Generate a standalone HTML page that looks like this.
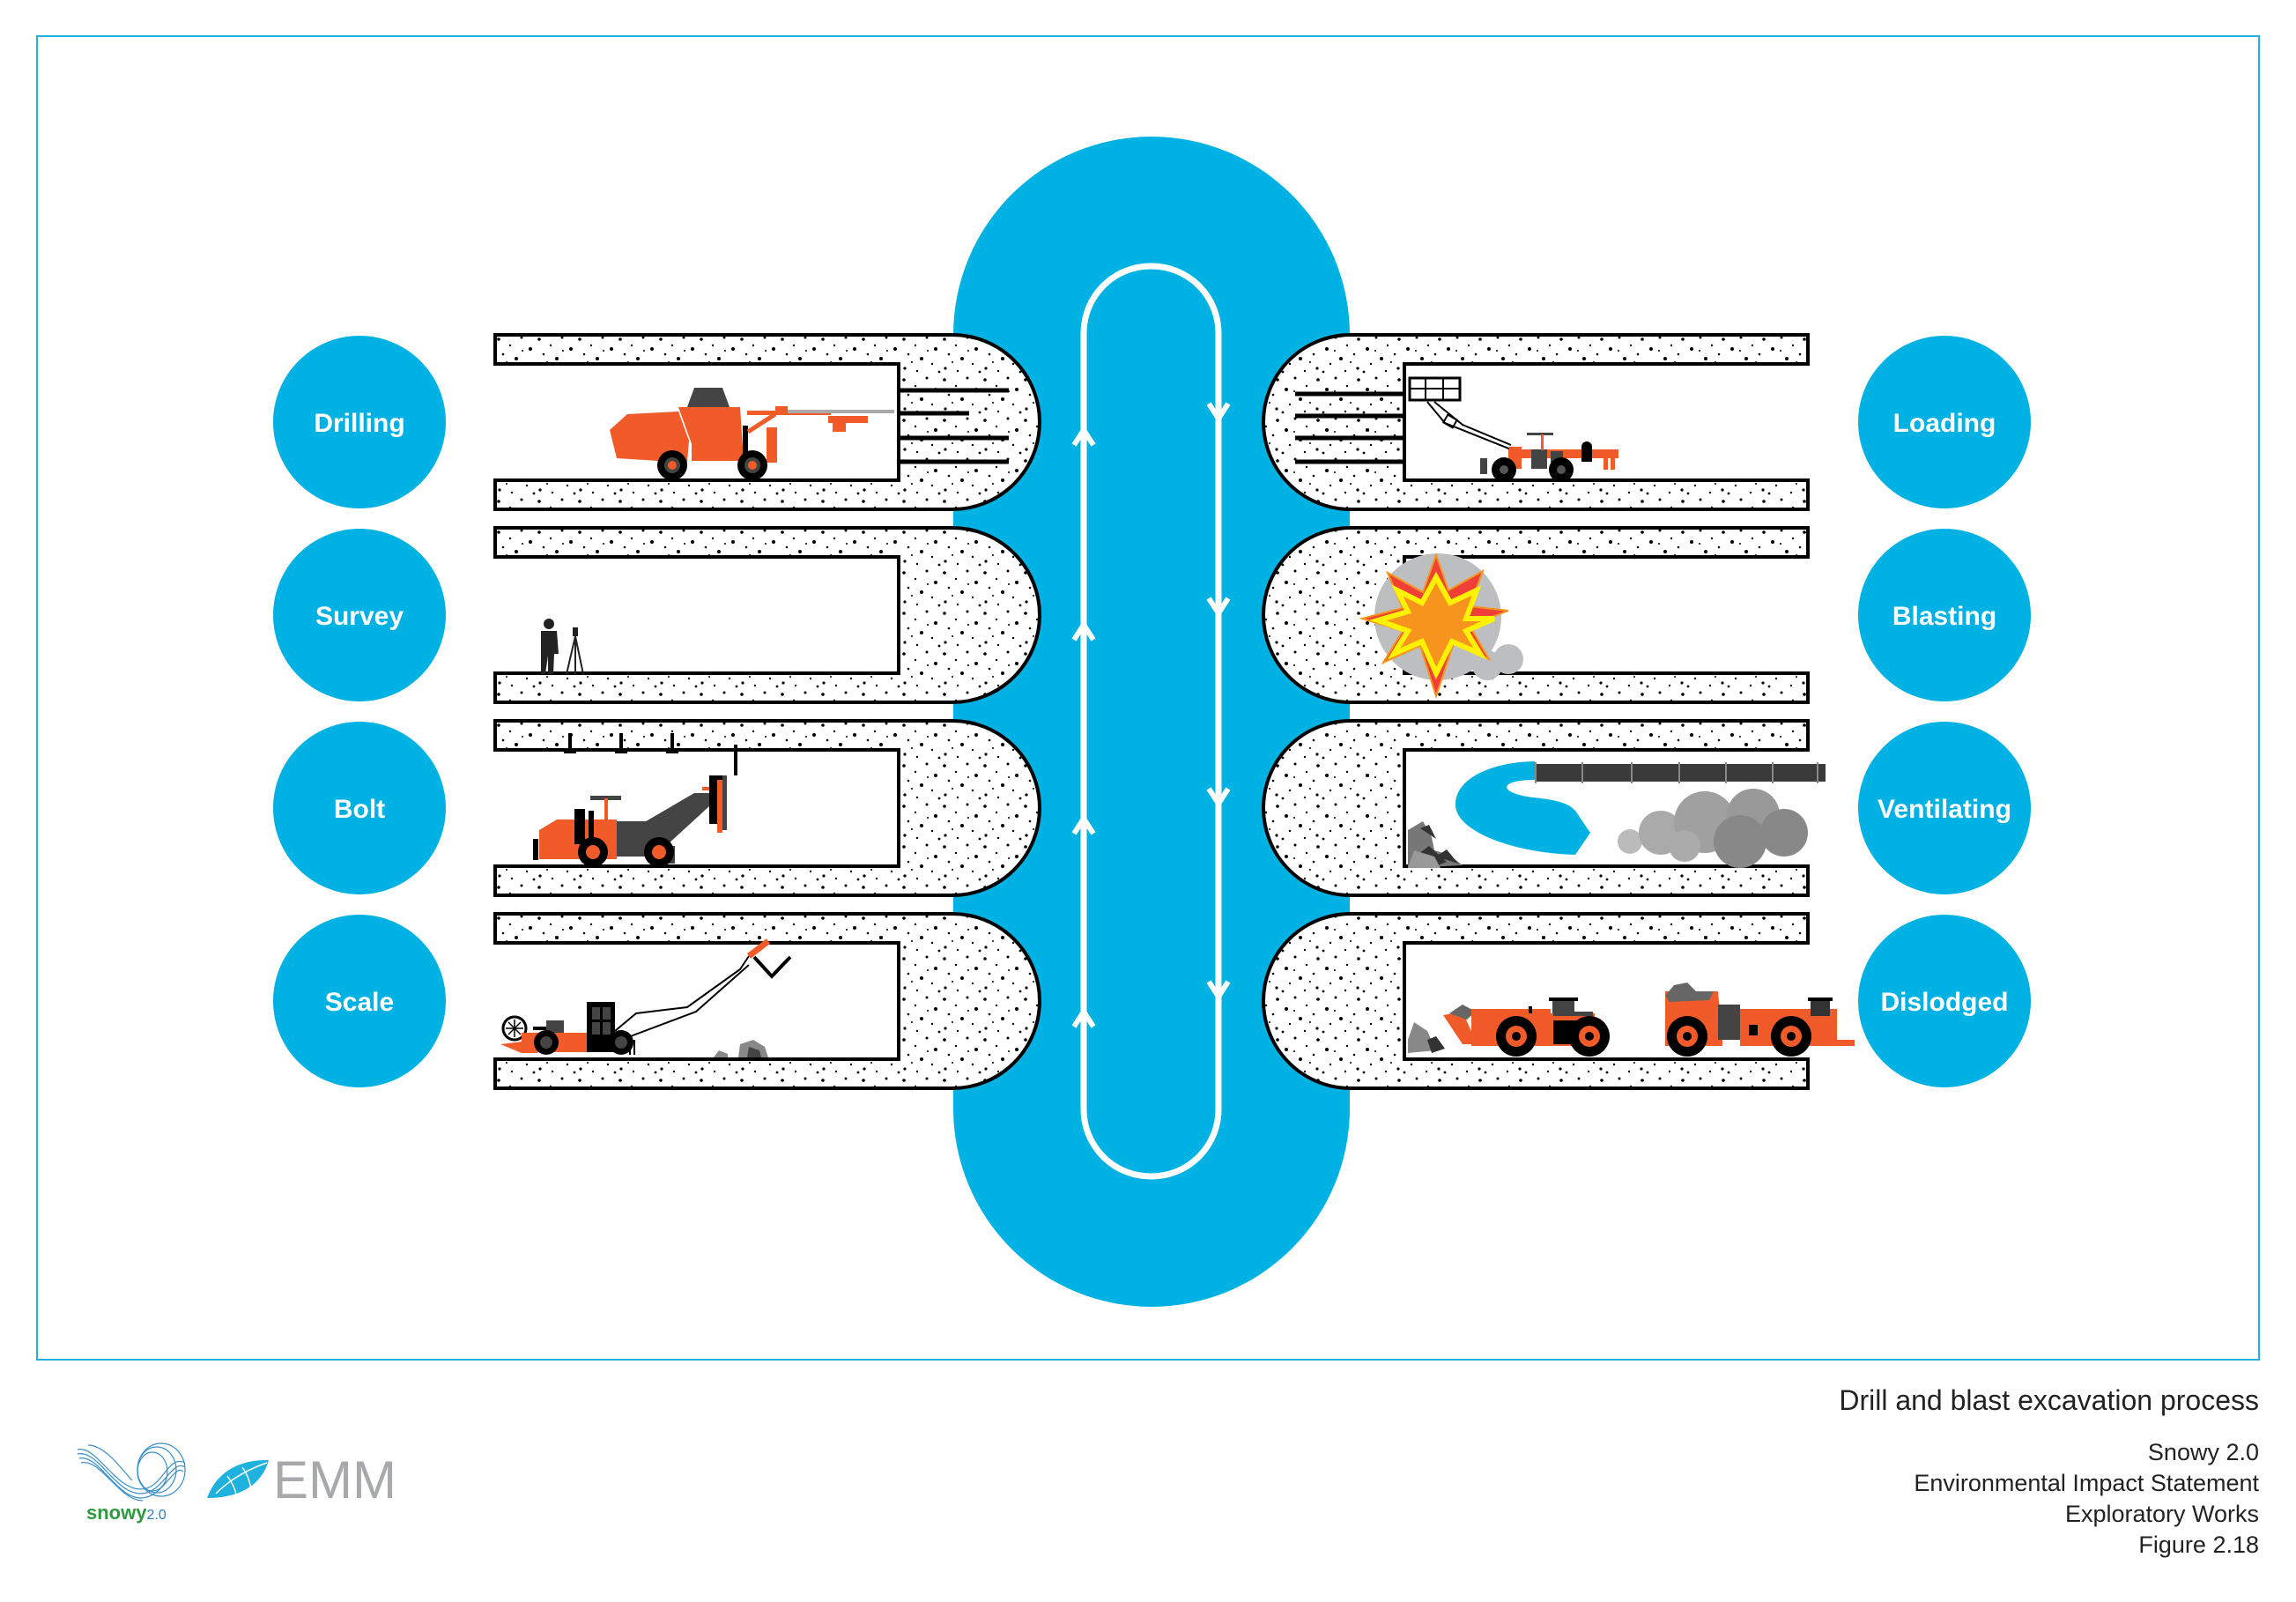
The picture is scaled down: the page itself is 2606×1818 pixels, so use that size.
<!DOCTYPE html>
<html><head><meta charset="utf-8"><style>
html,body{margin:0;padding:0;background:#fff;}
svg{display:block;}
text{font-family:"Liberation Sans",sans-serif;}
</style></head><body>
<svg width="2606" height="1818" viewBox="0 0 2606 1818" xmlns="http://www.w3.org/2000/svg">
<defs>
<pattern id="st" width="46" height="46" patternUnits="userSpaceOnUse">
<rect width="46" height="46" fill="#fff"/>
<g fill="#000">
<circle cx="4" cy="5" r="1.8"/><circle cx="17" cy="12" r="1.2"/><circle cx="30" cy="3" r="1.5"/><circle cx="40" cy="16" r="2"/>
<circle cx="9" cy="22" r="1.3"/><circle cx="24" cy="27" r="2"/><circle cx="36" cy="33" r="1.2"/><circle cx="5" cy="38" r="1.6"/>
<circle cx="19" cy="41" r="1.2"/><circle cx="44" cy="42" r="1.4"/><circle cx="31" cy="18" r="1"/><circle cx="13" cy="31" r="1"/>
</g>
</pattern>
<g id="tun">
<path d="M0,0 H519 A99,99 0 0 1 519,198 H0 V165 H458 V33 H0 Z" fill="url(#st)" stroke="#000" stroke-width="4" stroke-linejoin="miter"/>
</g>
</defs>
<rect x="42" y="41" width="2522" height="1502" fill="none" stroke="#1fb2de" stroke-width="2"/>
<rect x="1082" y="155" width="450" height="1328" rx="225" fill="#00b2e3"/>
<rect x="1230" y="302" width="153" height="1033" rx="76" fill="none" stroke="#fff" stroke-width="7"/>
<g stroke="#fff" stroke-width="6" fill="none">
<path d="M1219,505 L1230,488 L1241,505"/><path d="M1219,726 L1230,709 L1241,726"/><path d="M1219,946 L1230,929 L1241,946"/><path d="M1219,1165 L1230,1148 L1241,1165"/>
<path d="M1372,458 L1383,475 L1394,458"/><path d="M1372,679 L1383,696 L1394,679"/><path d="M1372,895 L1383,912 L1394,895"/><path d="M1372,1114 L1383,1131 L1394,1114"/>
</g>
<use href="#tun" transform="translate(562,380)"/>
<use href="#tun" transform="translate(562,599)"/>
<use href="#tun" transform="translate(562,818)"/>
<use href="#tun" transform="translate(562,1037)"/>
<use href="#tun" transform="translate(2052,380) scale(-1,1)"/>
<use href="#tun" transform="translate(2052,599) scale(-1,1)"/>
<use href="#tun" transform="translate(2052,818) scale(-1,1)"/>
<use href="#tun" transform="translate(2052,1037) scale(-1,1)"/>
<path d="M856,1086 L876,1108 L897,1086" fill="#fff" stroke="#000" stroke-width="4"/>
<rect x="858" y="1080" width="37" height="6" fill="#fff"/>
<g stroke="#000" stroke-width="5">
<line x1="1022" y1="443" x2="1145" y2="443"/><line x1="1022" y1="469" x2="1100" y2="469"/><line x1="1022" y1="497" x2="1145" y2="497"/><line x1="1022" y1="524" x2="1145" y2="524"/>
<line x1="1592" y1="447" x2="1470" y2="447"/><line x1="1592" y1="472" x2="1470" y2="472"/><line x1="1592" y1="497" x2="1470" y2="497"/><line x1="1592" y1="524" x2="1470" y2="524"/>
</g>
<g fill="#00b2e3">
<circle cx="408" cy="479" r="98"/><circle cx="408" cy="698" r="98"/><circle cx="408" cy="917" r="98"/><circle cx="408" cy="1136" r="98"/>
<circle cx="2207" cy="479" r="98"/><circle cx="2207" cy="698" r="98"/><circle cx="2207" cy="917" r="98"/><circle cx="2207" cy="1136" r="98"/>
</g>
<g fill="#fff" font-size="30" font-weight="bold" text-anchor="middle">
<text x="408" y="490">Drilling</text><text x="408" y="709">Survey</text><text x="408" y="928">Bolt</text><text x="408" y="1147">Scale</text>
<text x="2207" y="490">Loading</text><text x="2207" y="709">Blasting</text><text x="2207" y="928" textLength="152" lengthAdjust="spacingAndGlyphs">Ventilating</text><text x="2207" y="1147">Dislodged</text>
</g>
<g>
<path d="M692,488 L712,470 L770,467 L782,500 L780,525 L700,520 Z" fill="#f15a29"/>
<path d="M780,462 L788,440 L820,440 L828,462 Z" fill="#444"/>
<path d="M770,462 L840,462 L843,508 L788,512 Z" fill="#f15a29"/>
<rect x="785" y="505" width="60" height="18" fill="#f15a29"/>
<rect x="843" y="483" width="6" height="50" fill="#000"/>
<rect x="870" y="485" width="12" height="40" fill="#f15a29"/>
<path d="M849,490 L880,470" stroke="#f15a29" stroke-width="5"/>
<rect x="848" y="466" width="95" height="5" fill="#f15a29"/>
<rect x="885" y="465" width="130" height="4" fill="#aaa"/>
<rect x="940" y="472" width="45" height="8" fill="#f15a29"/><rect x="945" y="478" width="15" height="12" fill="#f15a29"/>
<rect x="880" y="461" width="14" height="8" fill="#f15a29"/>
<circle cx="763" cy="528" r="17" fill="#000"/><circle cx="763" cy="528" r="9" fill="#444"/><circle cx="763" cy="528" r="5" fill="#f15a29"/>
<circle cx="854" cy="528" r="17" fill="#000"/><circle cx="854" cy="528" r="9" fill="#444"/><circle cx="854" cy="528" r="5" fill="#f15a29"/>
</g>
<g fill="#222">
<circle cx="623" cy="708" r="6"/>
<path d="M614,716 L632,716 L634,742 L629,742 L628,765 L622,765 L622,744 L619,765 L614,765 L614,742 Z"/>
<path d="M653,722 L643,765 M653,722 L662,765 M653,722 L653,765" stroke="#222" stroke-width="2" fill="none"/>
<rect x="650" y="712" width="6" height="10"/>
</g>
<g fill="#000"><rect x="645" y="832" width="4" height="22"/><rect x="703" y="832" width="4" height="22"/><rect x="761" y="832" width="4" height="22"/>
<rect x="640" y="852" width="14" height="3"/><rect x="698" y="852" width="14" height="3"/><rect x="756" y="852" width="14" height="3"/></g>
<g>
<path d="M612,942 L632,930 L700,930 L700,975 L612,975 Z" fill="#f15a29"/>
<rect x="605" y="952" width="6" height="24" fill="#000"/>
<rect x="652" y="918" width="12" height="40" fill="#000"/><rect x="668" y="920" width="6" height="38" fill="#000"/>
<rect x="700" y="932" width="45" height="40" fill="#444"/>
<rect x="670" y="903" width="35" height="5" fill="#444"/><rect x="686" y="906" width="4" height="45" fill="#f15a29"/>
<path d="M728,935 L788,900 L805,900 L805,915 L745,970 Z" fill="#444"/>
<rect x="797" y="893" width="16" height="4" fill="#f15a29"/>
<rect x="805" y="880" width="16" height="55" fill="#000"/><rect x="814" y="885" width="6" height="60" fill="#f15a29"/><rect x="820" y="880" width="5" height="62" fill="#444"/>
<rect x="833" y="845" width="4" height="35" fill="#000"/>
<rect x="754" y="960" width="12" height="20" fill="#444"/>
<circle cx="673" cy="967" r="17" fill="#000"/><circle cx="673" cy="967" r="8" fill="#f15a29"/>
<circle cx="748" cy="967" r="17" fill="#000"/><circle cx="748" cy="967" r="8" fill="#f15a29"/>
</g>
<g>
<circle cx="584" cy="1167" r="13" fill="none" stroke="#000" stroke-width="3"/>
<path d="M574,1167 H594 M584,1157 V1177 M577,1160 L591,1174 M591,1160 L577,1174" stroke="#000" stroke-width="1.5"/>
<path d="M568,1185 L610,1180 L610,1195 L592,1195 Z" fill="#f15a29"/>
<rect x="592" y="1172" width="80" height="22" fill="#f15a29"/>
<rect x="605" y="1165" width="15" height="4" fill="#000"/><rect x="620" y="1158" width="20" height="14" fill="#444"/>
<rect x="666" y="1137" width="32" height="57" fill="#000"/>
<g fill="#444"><rect x="672" y="1143" width="9" height="14"/><rect x="684" y="1143" width="9" height="14"/><rect x="672" y="1160" width="9" height="14"/><rect x="684" y="1160" width="9" height="14"/></g>
<path d="M698,1170 L722,1150 L780,1143 L840,1100 L850,1085 M705,1180 L790,1148 L850,1095" stroke="#000" stroke-width="2" fill="none"/>
<path d="M850,1085 L872,1068" stroke="#f15a29" stroke-width="7"/>
<path d="M715,1180 V1197 M720,1180 V1197" stroke="#000" stroke-width="2"/>
<circle cx="620" cy="1183" r="14" fill="#000"/><circle cx="620" cy="1183" r="7" fill="#444"/>
<circle cx="705" cy="1183" r="14" fill="#000"/><circle cx="705" cy="1183" r="7" fill="#444"/>
<path d="M810,1200 L816,1192 L826,1196 L826,1200 Z M838,1200 L840,1185 L855,1180 L868,1188 L872,1200 Z" fill="#888"/>
<path d="M848,1200 L850,1188 L862,1192 L864,1200 Z" fill="#444"/>
</g>
<g>
<rect x="1600" y="429" width="57" height="25" fill="#fff" stroke="#000" stroke-width="3"/>
<path d="M1600,441 H1657 M1618,429 V454 M1638,429 V454" stroke="#000" stroke-width="2"/>
<path d="M1620,456 L1640,480 L1715,510 M1628,456 L1660,482 L1715,505" stroke="#000" stroke-width="2" fill="none"/>
<rect x="1640" y="473" width="12" height="10" fill="none" stroke="#000" stroke-width="2" transform="rotate(30 1646 478)"/>
<rect x="1680" y="520" width="8" height="18" fill="#444"/>
<rect x="1712" y="510" width="125" height="10" fill="#f15a29"/>
<rect x="1713" y="507" width="14" height="25" fill="#f15a29"/>
<rect x="1738" y="510" width="18" height="22" fill="#444"/><rect x="1760" y="512" width="14" height="28" fill="#444"/>
<rect x="1733" y="491" width="30" height="3" fill="#444"/><rect x="1749" y="493" width="3" height="18" fill="#f15a29"/>
<rect x="1795" y="508" width="12" height="16" fill="#000"/><circle cx="1801" cy="507" r="6" fill="#000"/>
<rect x="1820" y="513" width="5" height="20" fill="#f15a29"/><rect x="1828" y="513" width="5" height="20" fill="#f15a29"/>
<circle cx="1707" cy="533" r="14" fill="#000"/><circle cx="1707" cy="533" r="5" fill="#555"/>
<circle cx="1772" cy="533" r="14" fill="#000"/><circle cx="1772" cy="533" r="5" fill="#555"/>
</g>
<g>
<circle cx="1632" cy="700" r="72" fill="#bcbec0"/>
<circle cx="1712" cy="748" r="17" fill="#bcbec0"/><circle cx="1688" cy="755" r="17" fill="#bcbec0"/>
<polygon points="1630,630 1644,670 1683,648 1668,688 1712,693 1668,710 1690,748 1650,730 1630,790 1612,733 1570,752 1592,716 1546,702 1592,690 1575,650 1615,672" fill="#ee4036" stroke="#f7941d" stroke-width="2"/>
<polygon points="1630,655 1646,684 1676,670 1664,702 1696,702 1664,716 1680,742 1648,728 1630,764 1614,728 1582,742 1598,716 1564,704 1598,694 1586,670 1614,684" fill="#f7941d" stroke="#fff200" stroke-width="6"/>
</g>
<g>
<rect x="1742" y="867" width="330" height="20" fill="#3a3a3a"/>
<g stroke="#888" stroke-width="2"><line x1="1743" y1="865" x2="1743" y2="889"/><line x1="1796" y1="865" x2="1796" y2="889"/><line x1="1852" y1="865" x2="1852" y2="889"/><line x1="1906" y1="865" x2="1906" y2="889"/><line x1="1959" y1="865" x2="1959" y2="889"/><line x1="2012" y1="865" x2="2012" y2="889"/><line x1="2063" y1="865" x2="2063" y2="889"/></g>
<path d="M1742,864 L1742,885 C1700,885 1700,900 1740,905 C1770,908 1780,912 1788,920 L1805,945 L1788,970 C1720,968 1655,945 1652,915 C1650,885 1690,865 1742,864 Z" fill="#00b2e3"/>
<g fill="#999"><circle cx="1850" cy="955" r="14" fill="#bbb"/><circle cx="1885" cy="945" r="25" fill="#aaa"/><circle cx="1935" cy="933" r="35" fill="#a0a0a0"/><circle cx="1990" cy="925" r="30"/><circle cx="2025" cy="945" r="27" fill="#888"/><circle cx="1975" cy="955" r="30" fill="#888"/><circle cx="1912" cy="960" r="18" fill="#aaa"/></g>
<path d="M1598,942 L1615,932 L1625,950 L1628,965 L1645,970 L1660,982 L1598,985 Z" fill="#777"/>
<path d="M1602,975 L1622,960 L1642,978 L1625,985 Z M1630,972 L1642,964 L1655,980 Z M1612,940 L1622,936 L1630,952 Z" fill="#333"/>
<path d="M1598,985 L1605,965 L1628,972 L1635,985 Z" fill="#999"/>
</g>
<g>
<path d="M1598,1180 L1605,1160 L1620,1170 L1630,1192 L1598,1195 Z" fill="#888"/><path d="M1620,1180 L1630,1176 L1640,1190 L1625,1195 Z" fill="#333"/>
<path d="M1638,1152 L1660,1148 L1672,1175 L1680,1185 L1660,1185 Z" fill="#f15a29"/>
<path d="M1645,1150 L1660,1140 L1675,1148 L1665,1157 Z" fill="#666"/>
<rect x="1670" y="1145" width="90" height="42" fill="#f15a29"/>
<rect x="1760" y="1150" width="50" height="37" fill="#f15a29"/>
<rect x="1763" y="1158" width="27" height="27" fill="#000"/>
<rect x="1763" y="1148" width="45" height="5" fill="#444"/>
<rect x="1762" y="1135" width="25" height="15" fill="#444"/><rect x="1758" y="1132" width="33" height="4" fill="#000"/>
<rect x="1735" y="1142" width="4" height="8" fill="#000"/>
<path d="M1890,1125 L1950,1125 L1952,1150 L1890,1150 Z" fill="#f15a29"/>
<path d="M1890,1130 L1900,1118 L1915,1115 L1925,1125 L1945,1125 L1940,1135 L1895,1137 Z" fill="#666"/>
<rect x="1890" y="1140" width="65" height="47" fill="#f15a29"/>
<rect x="1950" y="1140" width="25" height="40" fill="#444"/>
<rect x="1975" y="1145" width="110" height="42" fill="#f15a29"/><path d="M2085,1180 L2105,1180 L2105,1187 L2085,1187 Z" fill="#f15a29"/>
<rect x="2055" y="1135" width="22" height="18" fill="#333"/><rect x="2052" y="1132" width="28" height="4" fill="#000"/>
<rect x="1985" y="1163" width="10" height="12" fill="#000"/>
<g fill="#000"><circle cx="1721" cy="1176" r="23"/><circle cx="1804" cy="1176" r="23"/><circle cx="1915" cy="1176" r="23"/><circle cx="2033" cy="1176" r="23"/></g>
<g fill="#f15a29"><circle cx="1721" cy="1176" r="12"/><circle cx="1804" cy="1176" r="12"/><circle cx="1915" cy="1176" r="12"/><circle cx="2033" cy="1176" r="12"/></g>
<g fill="#000"><circle cx="1721" cy="1176" r="5"/><circle cx="1804" cy="1176" r="5"/><circle cx="1915" cy="1176" r="5"/><circle cx="2033" cy="1176" r="5"/></g>
</g>
<g fill="#222" text-anchor="end">
<text x="2564" y="1600" font-size="32">Drill and blast excavation process</text>
<text x="2564" y="1657" font-size="27">Snowy 2.0</text>
<text x="2564" y="1692" font-size="27">Environmental Impact Statement</text>
<text x="2564" y="1727" font-size="27">Exploratory Works</text>
<text x="2564" y="1762" font-size="27">Figure 2.18</text>
</g>
<g fill="none" stroke="#3a8fc8" stroke-width="1.2">
<path d="M88,1645 C110,1640 130,1690 160,1690 C185,1690 190,1650 210,1660"/>
<path d="M88,1650 C112,1645 130,1695 160,1695 C185,1695 195,1655 210,1665"/>
<path d="M90,1655 C112,1650 132,1700 160,1700 C185,1700 198,1660 208,1670"/>
<path d="M92,1660 C115,1655 135,1703 162,1703"/>
<path d="M100,1640 C120,1640 140,1670 150,1680"/>
<ellipse cx="183" cy="1668" rx="27" ry="30"/><ellipse cx="178" cy="1668" rx="22" ry="26"/><ellipse cx="173" cy="1670" rx="17" ry="22"/>
</g>
<text x="98" y="1724" font-size="22" font-weight="bold" fill="#2e9a3e">snowy<tspan font-size="16" font-weight="normal" fill="#2e7fc0">2.0</tspan></text>
<path d="M235,1700 C245,1672 270,1656 305,1657 C298,1683 275,1700 235,1700 Z" fill="#1fb2de"/>
<path d="M245,1695 C260,1680 280,1668 303,1660 M258,1675 C265,1685 268,1692 268,1698 M275,1665 C282,1675 285,1685 285,1695" stroke="#fff" stroke-width="1.5" fill="none"/>
<text x="310" y="1700" font-size="60" fill="#a7a9ac">EMM</text>
</svg>
</body></html>
